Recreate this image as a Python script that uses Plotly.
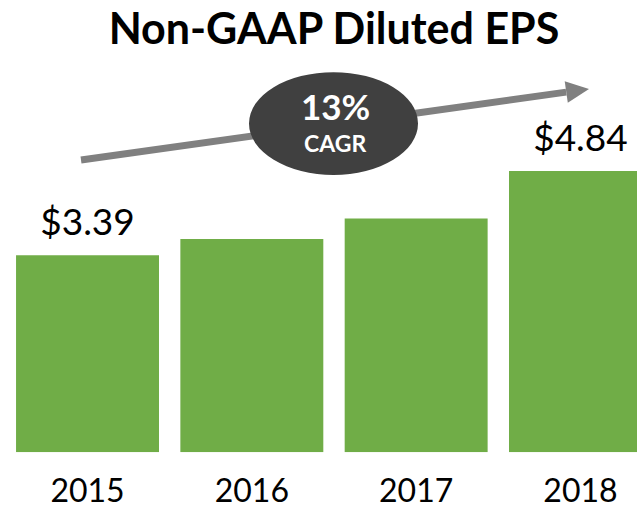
import plotly.graph_objects as go

# ---- data ----
years = ["2015", "2016", "2017", "2018"]
eps = [3.39, 3.67, 4.02, 4.84]
labelled = ["2015", "2018"]
title_text = "Non-GAAP Diluted EPS"
cagr_pct = "13%"
cagr_word = "CAGR"

W, H = 637, 509
FONT = "Lato, 'Open Sans', sans-serif"
GREEN = "#70AD47"
GRAY = "#808080"
DARK = "#404040"


def px(x):
    return x / W


def py(y):
    return 1 - y / H


fig = go.Figure()
fig.add_trace(go.Bar(
    x=years, y=eps, marker=dict(color=GREEN, line=dict(width=0)),
    hoverinfo="skip", showlegend=False,
))

# value labels above the first and last bars (text trace on the same axes);
# an invisible marker pads the label away from the bar top
lab_x = [yr for yr in years if yr in labelled]
lab_y = [v for yr, v in zip(years, eps) if yr in labelled]
lab_t = ["$" + f"{v:.2f}" for v in lab_y]
fig.add_trace(go.Scatter(
    x=lab_x, y=lab_y, mode="markers+text", text=lab_t, textposition="top center",
    marker=dict(size=16, color="rgba(0,0,0,0)", line=dict(width=0)),
    textfont=dict(family=FONT, size=37, color="#000000"),
    hoverinfo="skip", showlegend=False, cliponaxis=False,
))

annotations = []
# CAGR bubble text
annotations.append(dict(x=px(335), y=py(107), xref="paper", yref="paper",
                        text=f"<b>{cagr_pct}</b>", showarrow=False,
                        xanchor="center", yanchor="middle",
                        font=dict(family=FONT, size=35, color="#FFFFFF")))
annotations.append(dict(x=px(335), y=py(145), xref="paper", yref="paper",
                        text=f"<b>{cagr_word}</b>", showarrow=False,
                        xanchor="center", yanchor="middle",
                        font=dict(family=FONT, size=23, color="#FFFFFF")))

# growth arrow
x_start, y_start = 81, 162
tip_x, tip_y = 589, 90
base_x, base_y = 566.2, 93.2
c1 = (567.8, 104.1)
c2 = (564.7, 82.3)
shapes = [
    dict(type="line", xref="paper", yref="paper",
         x0=px(x_start), y0=py(y_start), x1=px(base_x), y1=py(base_y),
         line=dict(color=GRAY, width=7)),
    dict(type="path", xref="paper", yref="paper",
         path=f"M {px(tip_x)},{py(tip_y)} L {px(c1[0])},{py(c1[1])} L {px(c2[0])},{py(c2[1])} Z",
         fillcolor=GRAY, line=dict(width=0)),
    dict(type="circle", xref="paper", yref="paper",
         x0=px(249), x1=px(418), y0=py(177), y1=py(73),
         fillcolor=DARK, line=dict(width=0)),
]

fig.update_layout(
    width=W, height=H,
    margin=dict(l=0, r=0, t=0, b=0),
    paper_bgcolor="white", plot_bgcolor="white",
    bargap=0.13,
    title=dict(text=f"<b>{title_text}</b>", x=px(334), xanchor="center",
               y=py(29), yanchor="middle", yref="container",
               font=dict(family=FONT, size=43, color="#000000")),
    xaxis=dict(type="category", range=[-0.5326, 3.344], showgrid=False,
               showline=False, zeroline=False, ticks="",
               tickfont=dict(family=FONT, size=32, color="#000000"),
               ticklabelstandoff=17),
    yaxis=dict(range=[0, 7.78], domain=[51.3 / H, 1], visible=False,
               showgrid=False, zeroline=False),
    annotations=annotations,
    shapes=shapes,
)

fig.write_html("out.html", config={"displayModeBar": False},
               post_script="document.body.style.margin='0';document.body.style.overflow='hidden';")
